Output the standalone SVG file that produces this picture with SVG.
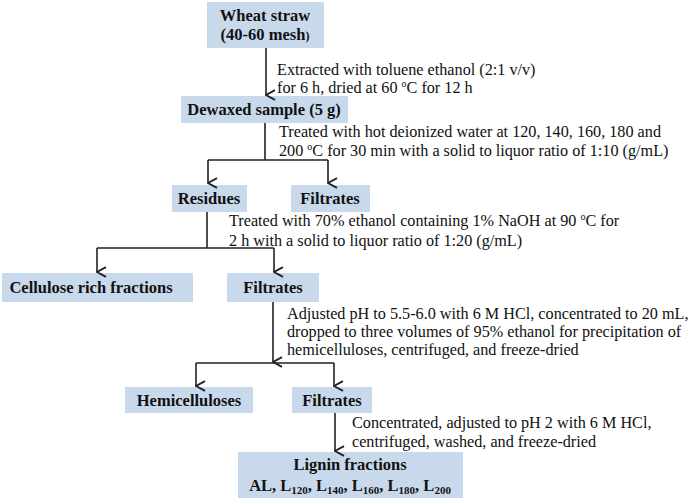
<svg xmlns="http://www.w3.org/2000/svg" width="697" height="501" viewBox="0 0 697 501">
<defs>
<marker id="ah" markerWidth="12" markerHeight="12" refX="5" refY="9" orient="auto-start-reverse" markerUnits="userSpaceOnUse" viewBox="0 0 10 10">
<path d="M1,1.5 L5,9 L9,1.5" fill="none" stroke="#222" stroke-width="1.6"/>
</marker>
</defs>
<style>
.box{fill:#c9d9ec}
.n{font-family:"Liberation Serif","Times New Roman",serif;font-weight:bold;font-size:16.5px;fill:#111;text-anchor:middle}
.t{font-family:"Liberation Serif","Times New Roman",serif;font-size:16.2px;fill:#111}
.c{fill:none;stroke:#222;stroke-width:1.6}
</style>
<rect width="697" height="501" fill="#fff"/>
<g id="wheat"><rect class="box" x="207" y="2" width="117" height="46"/><text class="n" x="265" y="21">Wheat straw</text><text class="n" x="265" y="40">(40-60 mesh<tspan font-size="12">)</tspan></text></g>
<g id="dewaxed"><rect class="box" x="181" y="96" width="167" height="27"/><text class="n" x="264" y="115">Dewaxed sample (5 g)</text></g>
<g id="residues"><rect class="box" x="172" y="185" width="75" height="27"/><text class="n" x="209" y="204">Residues</text></g>
<g id="filtrates1"><rect class="box" x="291" y="185" width="79" height="27"/><text class="n" x="330" y="204">Filtrates</text></g>
<g id="cellulose"><rect class="box" x="2" y="273" width="191" height="29"/><text class="n" x="91" y="293">Cellulose rich fractions</text></g>
<g id="filtrates2"><rect class="box" x="227" y="273" width="92" height="29"/><text class="n" x="273" y="293">Filtrates</text></g>
<g id="hemi"><rect class="box" x="125" y="387" width="128" height="26"/><text class="n" x="189" y="406">Hemicelluloses</text></g>
<g id="filtrates3"><rect class="box" x="292" y="387" width="80" height="26"/><text class="n" x="332" y="406">Filtrates</text></g>
<g id="lignin"><rect class="box" x="238" y="452" width="225" height="46"/><text class="n" x="350" y="470">Lignin fractions</text><text class="n" x="350" y="491">AL, L<tspan font-size="11" dy="3">120</tspan><tspan dy="-3">, L</tspan><tspan font-size="11" dy="3">140</tspan><tspan dy="-3">, L</tspan><tspan font-size="11" dy="3">160</tspan><tspan dy="-3">, L</tspan><tspan font-size="11" dy="3">180</tspan><tspan dy="-3">, L</tspan><tspan font-size="11" dy="3">200</tspan></text></g>
<g id="connectors">
<path class="c" d="M266,48 V95" marker-end="url(#ah)"/>
<path class="c" d="M265,123 V160 M208,160 H328"/>
<path class="c" d="M208,160 V183" marker-end="url(#ah)"/>
<path class="c" d="M328,160 V183" marker-end="url(#ah)"/>
<path class="c" d="M207,212 V248 M97,248 H274"/>
<path class="c" d="M97,248 V272" marker-end="url(#ah)"/>
<path class="c" d="M274,248 V272" marker-end="url(#ah)"/>
<path class="c" d="M273,302 V362" marker-end="url(#ah)"/>
<path class="c" d="M196,363 H334"/>
<path class="c" d="M196,363 V386" marker-end="url(#ah)"/>
<path class="c" d="M334,363 V386" marker-end="url(#ah)"/>
<path class="c" d="M335,413 V451" marker-end="url(#ah)"/>
</g>
<g id="labels">
<text class="t" x="277" y="75">Extracted with toluene ethanol (2:1 v/v)</text>
<text class="t" x="277" y="93">for 6 h, dried at 60 <tspan font-size="10" dy="-6">o</tspan><tspan dy="6">C for 12 h</tspan></text>
<text class="t" x="279" y="137">Treated with hot deionized water at 120, 140, 160, 180 and</text>
<text class="t" x="279" y="156">200 <tspan font-size="10" dy="-6">o</tspan><tspan dy="6">C for 30 min with a solid to liquor ratio of 1:10 (g/mL)</tspan></text>
<text class="t" x="229" y="226">Treated with 70% ethanol containing 1% NaOH at 90 <tspan font-size="10" dy="-6">o</tspan><tspan dy="6">C for</tspan></text>
<text class="t" x="229" y="246">2 h with a solid to liquor ratio of 1:20 (g/mL)</text>
<text class="t" x="287" y="319">Adjusted pH to 5.5-6.0 with 6 M HCl, concentrated to 20 mL,</text>
<text class="t" x="287" y="337">dropped to three volumes of 95% ethanol for precipitation of</text>
<text class="t" x="287" y="355">hemicelluloses, centrifuged, and freeze-dried</text>
<text class="t" x="352" y="428">Concentrated, adjusted to pH 2 with 6 M HCl,</text>
<text class="t" x="352" y="447">centrifuged, washed, and freeze-dried</text>
</g>
</svg>
